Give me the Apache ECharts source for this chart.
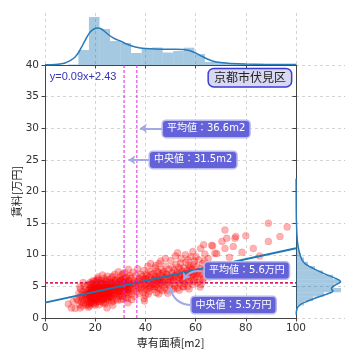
<!DOCTYPE html>
<html><head><meta charset="utf-8">
<script src="https://cdn.jsdelivr.net/npm/echarts@6/dist/echarts.min.js"></script>
<style>html,body{margin:0;padding:0;background:#fff}#c{width:360px;height:360px}</style>
</head><body><div id="c"></div>
<script>
// ---- data ----
const xTicks = [0, 20, 40, 60, 80, 100];
const yTicks = [0, 5, 10, 15, 20, 25, 30, 35, 40];
const meanArea = 36.6, medianArea = 31.5, meanRent = 5.6, medianRent = 5.5;
const regLine = [[0, 2.43], [100, 11.03]];
const regText = 'y=0.09x+2.43';
const areaName = '京都市伏見区';
const points = [
[9.3,2.2],[10.5,1.6],[11.2,2.6],[12.0,1.5],[12.6,3.0],[24.7,1.6],[39.6,2.7],[33.0,2.4],[27.0,2.0],
[13.2,2.8],[13.5,3.9],[13.8,2.1],[14.0,3.3],[14.2,4.6],[14.4,2.6],[14.6,3.7],[14.8,1.9],[15.0,3.1],[15.1,4.2],[15.3,2.4],[15.5,3.5],[15.6,5.0],[15.8,2.9],[16.0,3.8],[16.1,4.5],[16.3,2.2],[16.4,3.3],[16.6,4.0],[16.7,2.7],[16.9,3.6],[17.0,5.3],[17.1,4.3],[17.2,3.0],[17.3,1.7],[17.4,3.9],[15.2,5.6],[14.1,1.6],[16.8,2.0],[13.9,4.9],
[17.6,3.5],[17.7,4.4],[17.8,2.6],[17.9,5.1],[18.0,3.9],[18.1,3.0],[18.2,4.7],[18.3,2.2],[18.4,3.6],[18.5,4.1],[18.6,5.5],[18.7,3.3],[18.8,2.8],[18.9,4.5],[19.0,3.8],[19.0,5.9],[19.1,3.1],[19.2,4.3],[19.3,2.5],[19.4,3.7],[19.5,4.9],[19.5,4.0],[19.6,3.4],[19.7,5.2],[19.8,2.9],[19.9,4.6],[20.0,3.6],[20.0,4.2],[20.1,5.7],[20.2,3.2],[20.3,4.8],[20.3,2.4],[20.4,3.9],[20.5,4.4],[20.6,5.3],[20.6,3.0],[20.7,4.1],[20.8,3.5],[20.9,6.2],[21.0,4.7],[21.0,2.7],[21.1,3.8],[21.2,5.0],[21.3,4.3],[21.4,3.3],[21.5,5.6],[21.6,4.0],[21.6,2.1],[17.8,4.0],[18.0,5.6],[18.3,3.2],[18.6,4.9],[18.9,3.0],[19.2,5.4],[19.4,2.2],[19.7,4.4],[20.0,2.0],[20.2,5.0],[20.5,3.4],[20.8,4.6],[21.1,6.5],[21.4,4.9],[17.6,2.3],[18.4,4.4],[19.1,4.1],[19.8,3.8],[20.4,4.7],[21.0,3.6],[21.5,3.1],[18.1,3.4],[18.7,4.2],[19.3,4.6],[19.9,3.2],[20.6,4.0],[21.2,4.4],[17.9,3.7],[18.5,2.5],[19.6,5.8],[20.1,2.8],[20.7,5.9],[21.3,2.6],[18.8,3.9],[19.5,3.5],[20.9,3.9],[21.6,4.7],[19.0,4.4],[20.3,3.7],[17.7,1.9],[21.4,6.0],[18.2,5.3],
[21.8,3.7],[21.9,4.8],[22.0,3.1],[22.1,5.4],[22.2,4.2],[22.3,2.6],[22.4,4.6],[22.5,3.8],[22.6,5.9],[22.7,4.3],[22.8,3.3],[22.9,5.0],[23.0,4.0],[23.1,2.9],[23.2,4.9],[23.3,3.6],[23.4,5.6],[23.5,4.4],[23.6,3.2],[23.7,6.3],[23.8,4.7],[23.9,3.9],[24.0,5.2],[24.1,2.5],[24.2,4.5],[24.3,3.5],[24.4,5.8],[24.5,4.1],[24.6,3.0],[24.7,4.9],[24.8,6.6],[24.9,3.8],[25.0,5.3],[25.1,4.3],[25.2,2.8],[25.3,4.7],[25.4,3.4],[25.5,5.5],[25.6,4.0],[25.7,6.1],[25.8,3.6],[25.9,4.8],[22.0,4.4],[22.4,5.5],[22.8,3.9],[23.2,2.4],[23.6,5.3],[24.0,3.4],[24.4,4.3],[24.8,5.0],[25.2,3.9],[25.6,4.6],[22.2,3.5],[22.6,4.5],[23.0,5.5],[23.4,3.1],[23.8,4.1],[24.2,6.0],[24.6,4.4],[25.0,3.2],[25.4,5.1],[25.8,5.6],[22.5,2.9],[23.3,4.2],[24.1,4.8],[24.9,4.5],[25.7,3.3],[22.9,6.8],[23.9,2.2],[25.5,4.2],
[26.0,4.2],[26.2,5.6],[26.3,3.3],[26.5,4.8],[26.6,6.4],[26.8,3.9],[26.9,5.2],[27.1,2.7],[27.2,4.5],[27.4,5.9],[27.5,3.6],[27.7,4.9],[27.8,6.9],[28.0,4.1],[28.1,5.4],[28.3,3.0],[28.4,4.6],[28.6,6.1],[28.7,3.8],[28.9,5.1],[29.0,4.3],[29.2,7.3],[29.3,3.4],[29.5,5.7],[29.6,4.7],[29.8,6.4],[29.9,3.9],[26.4,4.4],[26.9,3.1],[27.3,5.0],[27.8,4.4],[28.2,5.9],[28.8,4.0],[29.1,5.3],[29.7,4.9],[26.7,5.5],[27.6,3.8],[28.5,5.0],[29.4,4.2],[27.0,6.6],[28.9,2.8],[26.1,3.6],[29.9,6.0],[27.9,5.6],[26.5,2.5],
[30.0,4.6],[30.2,5.9],[30.3,3.5],[30.5,5.1],[30.6,6.8],[30.8,4.2],[30.9,5.5],[31.1,3.0],[31.2,4.8],[31.4,6.2],[31.5,3.9],[31.7,5.3],[31.8,7.2],[32.0,4.4],[32.1,5.7],[32.3,3.3],[32.4,4.9],[32.6,6.5],[32.7,4.0],[32.9,5.4],[33.0,4.6],[33.2,7.7],[33.3,3.7],[33.5,6.0],[33.6,5.0],[33.8,6.7],[33.9,4.2],[30.4,4.4],[30.9,3.4],[31.3,5.6],[31.9,5.0],[32.2,6.3],[32.8,4.5],[33.1,5.8],[33.7,5.3],[30.7,6.0],[31.6,4.5],[32.5,5.2],[33.4,4.4],[31.0,7.0],[32.9,3.1],[30.1,2.9],
[34.1,4.8],[34.3,6.3],[34.6,3.8],[34.8,5.4],[35.0,7.2],[35.3,4.5],[35.5,5.9],[35.8,3.4],[36.0,5.1],[36.2,6.7],[36.5,4.2],[36.7,5.6],[36.9,7.8],[37.2,4.9],[37.4,6.0],[37.6,3.9],[37.9,5.3],[38.1,6.9],[38.3,4.6],[35.1,5.6],[36.3,4.7],[37.0,5.8],[37.8,6.3],[34.5,2.9],
[38.6,5.0],[38.8,6.6],[39.0,4.1],[39.2,5.7],[39.4,7.5],[39.6,4.7],[39.8,6.2],[40.0,3.6],[40.2,5.4],[40.4,7.0],[40.6,4.5],[40.8,5.9],[41.0,8.2],[41.2,5.1],[41.4,6.4],[41.6,4.2],[41.8,5.6],[42.0,7.3],[42.2,4.9],[42.4,6.1],[42.6,5.3],[39.1,6.0],[39.9,5.2],[40.7,6.7],[41.5,4.8],[42.3,6.9],[39.5,3.1],[41.1,3.8],[42.1,8.6],[40.3,6.2],
[43.0,5.4],[43.2,7.0],[43.4,4.5],[43.6,6.1],[43.8,7.9],[44.0,5.0],[44.2,6.6],[44.4,4.0],[44.6,5.8],[44.8,7.4],[45.0,4.8],[45.2,6.3],[45.4,8.6],[45.6,5.5],[45.8,6.8],[46.0,4.5],[46.2,6.0],[46.4,7.7],[46.6,5.2],[46.8,6.5],[43.3,5.9],[43.9,6.4],[44.5,5.3],[45.1,7.2],[45.7,6.0],[46.3,5.6],[46.9,7.1],[43.7,4.9],[44.9,6.0],[46.1,9.0],[44.1,8.3],[45.3,3.8],[46.7,4.3],
[47.1,5.7],[47.3,7.3],[47.6,4.8],[47.8,6.4],[48.1,8.2],[48.3,5.3],[48.6,6.9],[48.8,4.4],[49.1,6.1],[49.3,7.7],[49.6,5.1],[49.8,6.6],[50.1,9.1],[50.3,5.8],[50.6,7.1],[50.8,4.7],[49.0,5.6],[49.9,6.2],[47.5,6.0],[48.4,7.0],[50.4,6.4],[47.9,9.4],[50.7,8.0],[48.9,3.9],
[51.2,6.0],[51.4,7.6],[51.7,5.1],[51.9,6.7],[52.2,8.5],[52.4,5.6],[52.7,7.2],[52.9,4.7],[53.2,6.4],[53.4,8.0],[53.7,5.4],[53.9,6.9],[54.2,9.4],[54.4,6.1],[54.7,7.4],[54.9,5.0],[51.6,6.5],[52.3,6.9],[53.0,5.9],[53.8,7.7],[54.5,6.6],[52.0,9.8],[53.5,4.4],[54.0,8.7],[51.3,4.6],[52.8,10.3],[54.8,6.0],
[55.1,6.3],[55.3,7.9],[55.6,5.4],[55.8,7.0],[56.1,8.8],[56.3,5.9],[56.6,7.5],[56.8,5.0],[57.1,6.7],[57.3,8.3],[57.6,5.7],[57.8,7.2],[58.1,9.7],[58.3,6.4],[58.6,7.7],[58.8,5.3],[59.1,6.9],[59.3,8.5],[59.6,6.1],[59.8,7.4],[55.5,6.6],[56.2,7.1],[57.0,6.1],[57.7,7.9],[58.5,6.8],[59.2,5.8],[55.9,10.0],[57.4,4.6],[58.9,10.5],[56.9,9.2],[59.5,9.0],[55.2,4.9],[58.0,8.1],
[60.1,6.5],[60.4,8.1],[60.7,5.6],[61.0,7.3],[61.3,9.2],[61.6,6.1],[61.9,7.8],[62.2,5.3],[62.5,7.0],[62.8,8.6],[63.1,6.3],[63.4,7.6],[63.7,10.1],[60.6,7.0],[61.4,6.9],[62.0,11.0],[62.9,6.0],[63.5,9.0],[60.2,9.7],[61.8,4.9],[63.2,11.6],
[64.3,7.2],[65.0,9.4],[65.6,6.5],[66.2,8.3],[66.8,11.4],[67.5,7.5],[68.4,10.2],[69.3,8.0],[70.5,12.1],[71.7,11.0],
[71.7,13.9],[72.4,12.6],[75.7,12.6],[75.0,11.3],[76.0,12.9],[80.0,13.0],[83.0,11.0],[89.0,15.0],[89.0,12.1],[93.6,12.9],[96.5,14.4],[67.7,10.2],[66.4,11.5],[73.5,9.6],[78.5,10.4],[85.5,9.8]
];
// top histogram: [binStart, binEnd, height]
const areaHist = [
[9.1,13.3,0.5],[13.3,17.5,15],[17.5,21.7,48],[21.7,25.9,36],[25.9,30.1,24],[30.1,34.3,22],[34.3,38.5,12],[38.5,42.7,16],[42.7,46.9,17.5],[46.9,51.1,12.5],
[51.1,55.3,14],[55.3,59.5,17.3],[59.5,63.7,11],[63.7,67.9,3],[67.9,72.1,3],[72.1,76.3,1.5],[76.3,80.5,1],[80.5,84.7,0.5],[84.7,88.9,0.5],[88.9,93.1,0.5]
];
const areaKde = [
[0,0.3],[4,0.6],[6,1],[8,2],[10,4.3],[12,8],[13.5,13],[15,20],[16.5,27],[18,33],[19.5,36],[21,37],[22.5,36],[24,33],[26,29],[28,26],[30,24],[32,21.5],[34,19.5],[36,18],[38,17],[40,16.5],[44,16],[48,15.8],[52,15.8],[55,15.5],[57.5,14.5],[60,12],[62,9.3],[64,6.8],[67,3.8],[70,2.4],[74,1.6],[80,1],[88,0.6],[94,0.5],[100,0.4]
];
// right histogram: [binStart, binEnd, length]
const rentHist = [
[1.3,1.99,2],[1.99,2.68,8],[2.68,3.37,17],[3.37,4.06,28],[4.06,4.75,45],[4.75,5.44,38],[5.44,6.13,44],[6.13,6.82,37],[6.82,7.51,27],[7.51,8.2,19],
[8.2,8.89,12],[8.89,9.58,8],[9.58,10.27,5],[10.27,10.96,3],[10.96,11.65,2.5],[11.65,12.34,1.5],[12.34,13.03,1.5],[13.03,13.72,0.7],[13.72,14.41,0.5],[14.41,15.1,0.5]
];
// [length, rent]
const rentKde = [
[0.2,0.5],[0.4,1.0],[1,1.5],[2.3,1.8],[5,2.2],[10.7,2.6],[17,3.0],[24,3.4],[31,3.8],[36,4.1],[37,4.3],[35.5,4.55],[35.7,4.75],[37,5.0],[39,5.2],[43,5.5],[44.7,5.74],[43,6.0],[39,6.3],[33,6.7],[27,7.1],[20,7.6],[14,8.1],[9,8.6],[6,9.2],[4,10],[2.5,11],[1.5,12],[1,13],[0.7,14],[0.5,15],[0.3,16],[0.2,18],[0.1,22]
];

// ---- chart ----
const chart = echarts.init(document.getElementById('c'), null, {renderer: 'canvas'});
const axisCol = '#444';
const gridLine = {show: true, lineStyle: {color: '#c8c8c8', type: [3, 3], width: 0.8}};
const tickFont = {fontFamily: 'DejaVu Sans, Noto Sans CJK JP', fontSize: 10.5, color: '#333'};
const cjkFont = 'Noto Sans CJK JP';
const boxLabel = (txt) => ({
  show: true, formatter: txt, position: 'right', distance: 0, color: '#fff', fontSize: 10,
  fontFamily: 'DejaVu Sans, Noto Sans CJK JP', lineHeight: 13,
  backgroundColor: '#6462d8', borderColor: '#b9b8f0', borderWidth: 1.5, borderRadius: 3, padding: [2, 4, 1, 4]
});
function annot(x, y, lab) {
  return {value: [x, y], label: lab};
}
const arrowStyle = {color: '#a3a8e6', width: 2, opacity: 1};

chart.setOption({
  animation: false,
  grid: [
    {left: 45, top: 65, width: 251, height: 253, outerBoundsMode: 'none', containLabel: false},
    {left: 45, top: 13, width: 251, height: 52, outerBoundsMode: 'none', containLabel: false},
    {left: 296, top: 65, width: 49, height: 253, outerBoundsMode: 'none', containLabel: false}
  ],
  xAxis: [
    {gridIndex: 0, type: 'value', min: 0, max: 100, interval: 20,
     name: '専有面積[m2]', nameLocation: 'middle', nameGap: 19, nameMoveOverlap: false,
     nameTextStyle: {fontFamily: 'Noto Sans CJK JP, DejaVu Sans', fontSize: 11, color: '#222'},
     axisLine: {show: true, lineStyle: {color: axisCol, width: 1}},
     axisTick: {show: true, length: 3.5, lineStyle: {color: axisCol}},
     axisLabel: Object.assign({margin: 5}, tickFont), splitLine: gridLine},
    {gridIndex: 1, type: 'value', min: 0, max: 100, interval: 20,
     axisLine: {show: true, onZero: false, lineStyle: {color: axisCol, width: 1}},
     axisTick: {show: true, length: 3.5, lineStyle: {color: axisCol}},
     axisLabel: {show: false}, splitLine: gridLine},
    {gridIndex: 2, type: 'value', min: 0, max: 49, show: true,
     axisLine: {show: false}, axisTick: {show: false}, axisLabel: {show: false}, splitLine: {show: false}}
  ],
  yAxis: [
    {gridIndex: 0, type: 'value', min: 0, max: 40, interval: 5,
     name: '賃料[万円]', nameLocation: 'middle', nameGap: 23, nameRotate: 90, nameMoveOverlap: false,
     nameTextStyle: {fontFamily: 'Noto Sans CJK JP, DejaVu Sans', fontSize: 11, color: '#222'},
     axisLine: {show: true, lineStyle: {color: axisCol, width: 1}},
     axisTick: {show: true, length: 3.5, lineStyle: {color: axisCol}},
     axisLabel: Object.assign({margin: 6}, tickFont), splitLine: gridLine},
    {gridIndex: 1, type: 'value', min: 0, max: 52, show: false},
    {gridIndex: 2, type: 'value', min: 0, max: 40, interval: 5,
     axisLine: {show: true, lineStyle: {color: axisCol, width: 1}},
     axisTick: {show: true, length: 3.5, lineStyle: {color: axisCol}},
     axisLabel: {show: false}, splitLine: gridLine}
  ],
  series: [
    {type: 'scatter', xAxisIndex: 0, yAxisIndex: 0, data: points, symbolSize: 7, z: 2,
     itemStyle: {color: 'rgba(255,0,0,0.3)', borderColor: 'rgba(220,0,0,0.25)', borderWidth: 0.5, opacity: 1}},
    {type: 'line', xAxisIndex: 0, yAxisIndex: 0, data: regLine, symbol: 'none', z: 3,
     lineStyle: {color: '#1f77b4', width: 2}},
    {type: 'line', xAxisIndex: 0, yAxisIndex: 0, data: [[medianArea, 0], [medianArea, 40]], symbol: 'none', z: 4,
     lineStyle: {color: '#e61ee6', width: 1, type: [3, 2]}},
    {type: 'line', xAxisIndex: 0, yAxisIndex: 0, data: [[meanArea, 0], [meanArea, 40]], symbol: 'none', z: 4,
     lineStyle: {color: '#e61ee6', width: 1, type: [3, 2]}},
    {type: 'line', xAxisIndex: 0, yAxisIndex: 0, data: [[0, medianRent], [100, medianRent]], symbol: 'none', z: 4,
     lineStyle: {color: '#f0147a', width: 1, type: [3, 2]}},
    {type: 'line', xAxisIndex: 0, yAxisIndex: 0, data: [[0, meanRent], [100, meanRent]], symbol: 'none', z: 4,
     lineStyle: {color: '#e0105a', width: 1, type: [3, 2]}},
    // top histogram
    {type: 'custom', xAxisIndex: 1, yAxisIndex: 1, data: areaHist, encode: {x: [0, 1], y: 2},
     renderItem: function (params, api) {
       const p0 = api.coord([api.value(0), 0]);
       const p1 = api.coord([api.value(1), api.value(2)]);
       return {type: 'rect', shape: {x: p0[0], y: p1[1], width: p1[0] - p0[0], height: p0[1] - p1[1]},
               style: {fill: 'rgba(31,119,180,0.4)'}};
     }},
    {type: 'line', xAxisIndex: 1, yAxisIndex: 1, data: areaKde, symbol: 'none', smooth: 0.3,
     lineStyle: {color: '#2b7bb9', width: 1.5}},
    // right histogram
    {type: 'custom', xAxisIndex: 2, yAxisIndex: 2, data: rentHist, encode: {x: 2, y: [0, 1]},
     renderItem: function (params, api) {
       const p0 = api.coord([0, api.value(0)]);
       const p1 = api.coord([api.value(2), api.value(1)]);
       return {type: 'rect', shape: {x: p0[0], y: p1[1], width: p1[0] - p0[0], height: p0[1] - p1[1]},
               style: {fill: 'rgba(31,119,180,0.4)'}};
     }},
    {type: 'line', xAxisIndex: 2, yAxisIndex: 2, data: rentKde, symbol: 'none', smooth: 0.3,
     lineStyle: {color: '#2b7bb9', width: 1.5}},
    // arrows
    {type: 'lines', coordinateSystem: 'cartesian2d', xAxisIndex: 0, yAxisIndex: 0, z: 6,
     symbol: ['none', 'arrow'], symbolSize: 7, lineStyle: arrowStyle,
     data: [
       {coords: [[47, 30], [37.8, 30]]},
       {coords: [[41.8, 25], [33.2, 25]]},
       {coords: [[63.7, 7.2], [55.1, 6.0]], lineStyle: {curveness: -0.4}},
       {coords: [[58.4, 2.05], [49.8, 4.95]], lineStyle: {curveness: 0.4}}
     ]},
    // annotation boxes (anchored at their left edges)
    {type: 'scatter', xAxisIndex: 0, yAxisIndex: 0, symbolSize: 0, z: 8, silent: true,
     itemStyle: {opacity: 1},
     data: [
       annot(47.0, 29.9, boxLabel('平均値：' + meanArea + 'm2')),
       annot(41.8, 25.0, boxLabel('中央値：' + medianArea + 'm2')),
       annot(63.7, 7.5, boxLabel('平均値：' + meanRent + '万円')),
       annot(58.4, 2.05, boxLabel('中央値：' + medianRent + '万円')),
       annot(65.3, 38.0, {show: true, formatter: areaName, position: 'right', distance: 0, color: '#222', fontSize: 12,
         fontFamily: cjkFont, backgroundColor: '#d8d8f2', borderColor: '#3b3bd6', borderWidth: 1.5,
         borderRadius: 5, padding: [3, 5, 2, 5]}),
       annot(1.9, 38.1, {show: true, formatter: regText, position: 'right', distance: 0, color: '#3333bb',
         fontSize: 11, fontFamily: 'Liberation Sans'})
     ]}
  ]
});
</script></body></html>
